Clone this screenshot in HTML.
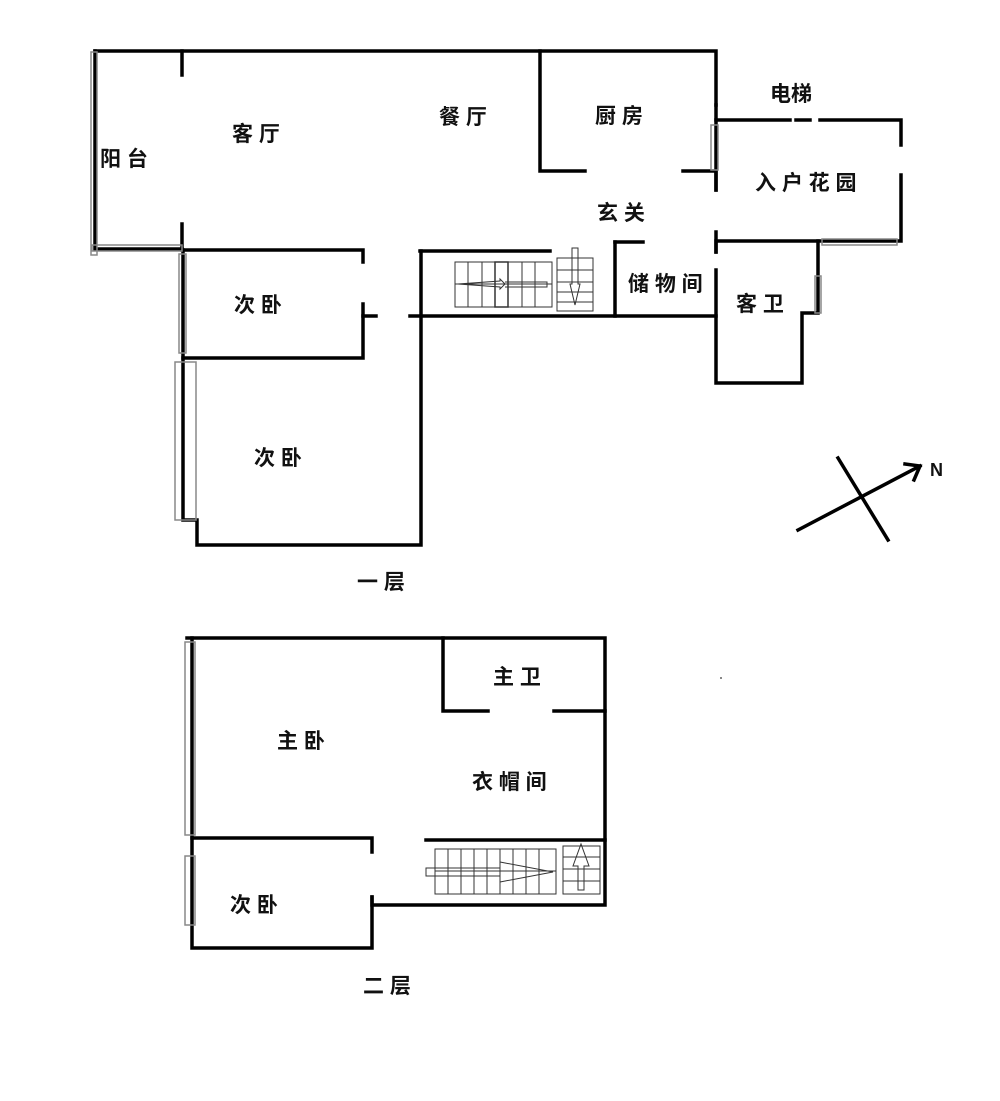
<!DOCTYPE html>
<html><head><meta charset="utf-8"><style>
html,body{margin:0;padding:0;background:#fff;}
svg{display:block;}
text{font-family:"Liberation Sans","Noto Sans CJK SC",sans-serif;font-weight:bold;font-size:21px;fill:#111;}
</style></head><body>
<svg width="1000" height="1101" viewBox="0 0 1000 1101" xmlns="http://www.w3.org/2000/svg">
<g stroke="#000" stroke-width="3.5" fill="none" stroke-linecap="square">
<path d="M95 51 H716 V105"/>
<path d="M95 51 V249 H182"/>
<path d="M182 51 V75"/>
<path d="M182 224 V250 H363 V262"/>
<path d="M540 51 V171 H585"/>
<path d="M683 171 H716 V190"/>
<path d="M716 105 V190"/>
<path d="M716 120 H790"/><path d="M796 120 H810"/><path d="M820 120 H901 V145"/>
<path d="M901 175 V241 H716 V252"/>
<path d="M716 232 V252"/>
<path d="M818 241 V313 H802 V383 H716 V270"/>
<path d="M615 242 H643"/><path d="M615 242 V316"/>
<path d="M410 316 H716"/>
<path d="M420 251 H550"/>
<path d="M421 251 V545 H197 V520 H183 V250"/>
<path d="M363 304 V358 H183"/>
<path d="M363 316 H376"/>
<path d="M798 530 L920 466"/>
<path d="M905 464 L920 466 L914 480"/>
<path d="M838 458 L888 540"/>
<path d="M187 638 H605 V905 H372 V897"/>
<path d="M192 638 V948 H372 V897"/>
<path d="M372 852 V838 H192"/>
<path d="M443 638 V711 H488"/><path d="M554 711 H605"/>
<path d="M426 840 H605"/>
</g>
<g stroke="#888" stroke-width="1.5" fill="none">
<rect x="91" y="52" width="6" height="203"/>
<rect x="92" y="245" width="90" height="6"/>
<rect x="179" y="254" width="7" height="99"/>
<rect x="175" y="362" width="21" height="158"/>
<rect x="711" y="125" width="7" height="45"/>
<rect x="822" y="239" width="75" height="6"/>
<rect x="815" y="276" width="6" height="37"/>
<rect x="185" y="642" width="10" height="193"/>
<rect x="185" y="856" width="10" height="69"/>
</g>
<g stroke="#333" stroke-width="1" fill="none">
<rect x="455" y="262" width="97" height="45"/>
<path d="M468 262V307M482 262V307M495 262V307M508 262V307M522 262V307M535 262V307M455 284H552"/>
<rect x="495" y="262" width="13" height="45" stroke-width="1.5"/>
<path d="M458 284 L500 281 V279 L505 284 L500 289 V287 Z M505 282 H547 V287 H505"/>
<rect x="557" y="258" width="36" height="53"/>
<path d="M557 270H593M557 292H593M557 302H593M557 282H593"/>
<path d="M572 248 V284 H570 L575 305 L580 284 H578 V248 Z"/>
</g>
<g stroke="#333" stroke-width="1" fill="none">
<rect x="435" y="849" width="121" height="45"/>
<path d="M448 849V894M461 849V894M474 849V894M487 849V894M500 849V894M513 849V894M526 849V894M539 849V894M435 871H556"/>
<path d="M426 868 H500 V862 L553 872 L500 882 V876 H426 Z"/>
<rect x="563" y="846" width="37" height="48"/>
<path d="M563 857H600M563 869H600M563 881H600"/>
<path d="M578 890 V866 H573 L581 844 L589 866 H584 V890 Z"/>
</g>
<rect x="720" y="677" width="2" height="2" fill="#888"/>
<text x="100" y="166">阳 台</text>
<text x="232" y="141">客 厅</text>
<text x="439" y="124">餐 厅</text>
<text x="595" y="123">厨 房</text>
<text x="770" y="101">电梯</text>
<text x="755" y="190">入 户 花 园</text>
<text x="597" y="220">玄 关</text>
<text x="628" y="291">储 物 间</text>
<text x="736" y="311">客 卫</text>
<text x="234" y="312">次 卧</text>
<text x="254" y="465">次 卧</text>
<text x="357" y="589">一 层</text>
<text x="930" y="476" style="font-size:18px">N</text>
<text x="493" y="684">主 卫</text>
<text x="277" y="748">主 卧</text>
<text x="472" y="789">衣 帽 间</text>
<text x="230" y="912">次 卧</text>
<text x="363" y="993">二 层</text>
</svg>
</body></html>
